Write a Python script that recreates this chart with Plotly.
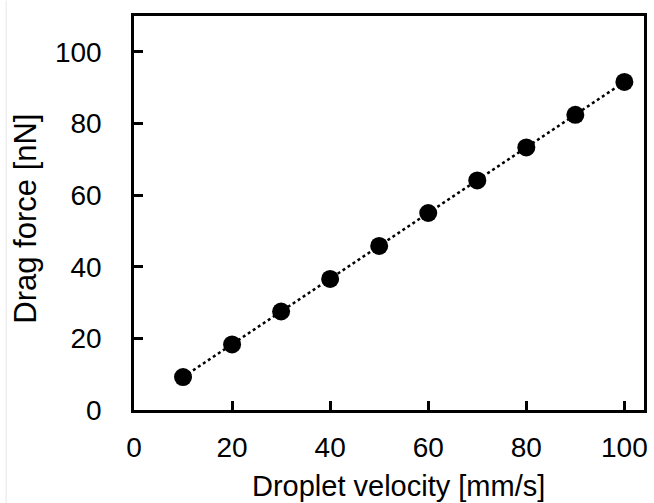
import plotly.graph_objects as go

velocity = [10, 20, 30, 40, 50, 60, 70, 80, 90, 100]
drag_force = [9.2, 18.3, 27.5, 36.6, 45.8, 55.0, 64.1, 73.3, 82.4, 91.6]
x_ticks = [0, 20, 40, 60, 80, 100]
y_ticks = [0, 20, 40, 60, 80, 100]

W, H = 654, 503
L, R, T, B = 133.5, 6, 15.5, 93
FONT = "Liberation Sans, Arial, sans-serif"

fig = go.Figure()
fig.add_trace(go.Scatter(
    x=velocity, y=drag_force, mode="lines",
    line=dict(color="black", width=2.5, dash="dot"),
    hoverinfo="skip", showlegend=False))
fig.add_trace(go.Scatter(
    x=velocity, y=drag_force, mode="markers",
    marker=dict(color="black", size=18, line=dict(width=0)),
    showlegend=False))

axis_common = dict(
    showline=True, linecolor="black", linewidth=2.5, mirror=True,
    ticks="inside", ticklen=9, tickwidth=2.5, tickcolor="black",
    showgrid=False, zeroline=False,
    tickfont=dict(family=FONT, size=28, color="black"),
)
fig.update_xaxes(range=[0, 104], tickvals=x_ticks, ticklabelstandoff=11, **axis_common)
fig.update_yaxes(range=[0, 110], tickvals=y_ticks, ticklabelstandoff=24, **axis_common)

pw = W - L - R
ph = H - T - B
fig.add_annotation(
    text="Droplet velocity [mm/s]", xref="paper", yref="paper",
    x=(400 - L) / pw, y=-(486 - (H - B)) / ph, showarrow=False,
    xanchor="center", yanchor="middle",
    font=dict(family=FONT, size=29, color="black"))
fig.add_annotation(
    text="Drag force [nN]", xref="paper", yref="paper",
    x=(24 - L) / pw, y=((H - B) - 218) / ph, showarrow=False, textangle=-90,
    xanchor="center", yanchor="middle",
    font=dict(family=FONT, size=31, color="black"))

fig.add_shape(type="line", xref="paper", yref="paper",
              x0=(4.5 - L) / pw, x1=(4.5 - L) / pw,
              y0=-(H - (H - B)) / ph, y1=(H - B) / ph,
              line=dict(color="#e6e6e6", width=1))

fig.update_layout(
    width=W, height=H,
    margin=dict(l=L, r=R, t=T, b=B, pad=0),
    paper_bgcolor="white", plot_bgcolor="white",
    showlegend=False,
)

fig.write_html("out.html")
